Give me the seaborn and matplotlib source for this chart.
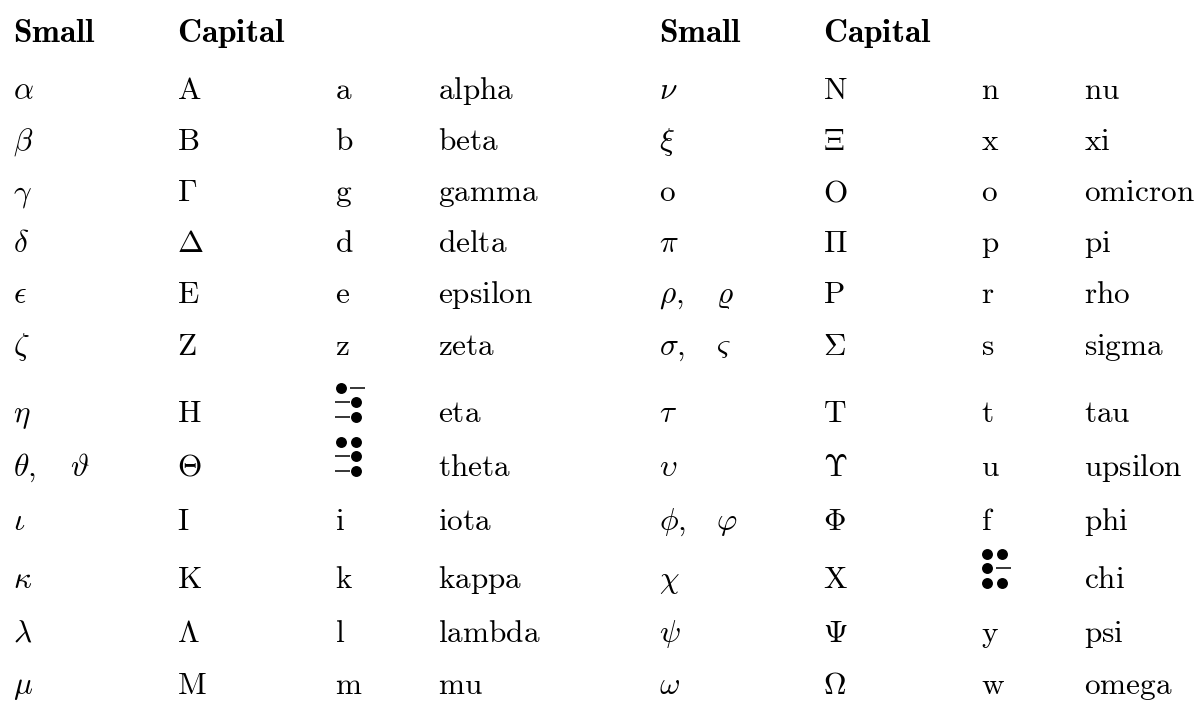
import matplotlib
matplotlib.use("Agg")
import matplotlib.pyplot as plt
import seaborn as sns

# ---- table content -------------------------------------------------------
left_small = [r"\alpha", r"\beta", r"\gamma", r"\delta", r"\epsilon", r"\zeta",
              r"\eta", r"\theta", r"\iota", r"\kappa", r"\lambda", r"\mu"]
left_variant = ["", "", "", "", "", "", "", r"\vartheta", "", "", "", ""]
left_capital = ["A", "B", r"\Gamma", r"\Delta", "E", "Z",
                "H", r"\Theta", "I", "K", r"\Lambda", "M"]
left_latin = ["a", "b", "g", "d", "e", "z", "", "", "i", "k", "l", "m"]
left_names = ["alpha", "beta", "gamma", "delta", "epsilon", "zeta",
              "eta", "theta", "iota", "kappa", "lambda", "mu"]

right_small = [r"\nu", r"\xi", r"\mathrm{o}", r"\pi", r"\rho", r"\sigma",
               r"\tau", r"\upsilon", r"\phi", r"\chi", r"\psi", r"\omega"]
right_variant = ["", "", "", "", r"\varrho", r"\varsigma", "", "", r"\varphi", "", "", ""]
right_capital = ["N", r"\Xi", "O", r"\Pi", "P", r"\Sigma",
                 "T", r"\Upsilon", r"\Phi", "X", r"\Psi", r"\Omega"]
right_latin = ["n", "x", "o", "p", "r", "s", "t", "u", "f", "", "y", "w"]
right_names = ["nu", "xi", "omicron", "pi", "rho", "sigma",
               "tau", "upsilon", "phi", "chi", "psi", "omega"]

# dot / dash cells printed instead of a latin letter (row index -> pattern)
left_cells = {6: ["o-", "-o", "-o"], 7: ["oo", "-o", "-o"]}
right_cells = {9: ["oo", "o-", "oo"]}

headers = ["Small", "Capital"]

# ---- layout (pixels) -----------------------------------------------------
W, H = 1199, 704
row_y = [99, 150, 201, 252, 303, 355, 422, 476, 530, 588, 642, 694]
header_y = 42
left_x = [13, 177, 335, 438]
right_x = [659, 823, 981, 1084]
variant_dx = 57
fs = 22.5
fs_head = 24

sns.set_theme(style="white")
plt.rcParams["mathtext.fontset"] = "cm"

fig = plt.figure(figsize=(W / 100, H / 100), dpi=100)
ax = fig.add_axes([0, 0, 1, 1])
ax.set_xlim(0, W)
ax.set_ylim(H, 0)
ax.axis("off")


def put(x, y, tex, size=fs):
    ax.text(x, y, "$" + tex + "$", fontsize=size, va="baseline", ha="left", color="black")


def draw_cell(x0, yb, pattern):
    # three rows of two slots: a dot or a short dash
    for r, row in enumerate(pattern):
        y = yb - 5.5 - (2 - r) * 14.5
        for c, ch in enumerate(row):
            if ch == "o":
                ax.scatter([x0 + 6 + c * 15], [y], s=62, color="black", linewidths=0)
            else:
                ax.plot([x0 + c * 15, x0 + 15 + c * 15], [y, y],
                        color="black", lw=1.1, solid_capstyle="butt")


halves = [
    (left_x, left_small, left_variant, left_capital, left_latin, left_names, left_cells),
    (right_x, right_small, right_variant, right_capital, right_latin, right_names, right_cells),
]

for cx, small, variant, capital, latin, names, cells in halves:
    put(cx[0], header_y, r"\mathbf{" + headers[0] + "}", fs_head)
    put(cx[1], header_y, r"\mathbf{" + headers[1] + "}", fs_head)
    for i, y in enumerate(row_y):
        if variant[i]:
            put(cx[0], y, small[i] + ",")
            put(cx[0] + variant_dx, y, variant[i])
        else:
            put(cx[0], y, small[i])
        cap = capital[i] if capital[i].startswith("\\") else r"\mathrm{" + capital[i] + "}"
        put(cx[1], y, cap)
        if i in cells:
            draw_cell(cx[2], y, cells[i])
        else:
            put(cx[2], y, r"\mathrm{" + latin[i] + "}")
        put(cx[3], y, r"\mathrm{" + names[i] + "}")

fig.savefig("out.png", dpi=100, facecolor="white")
